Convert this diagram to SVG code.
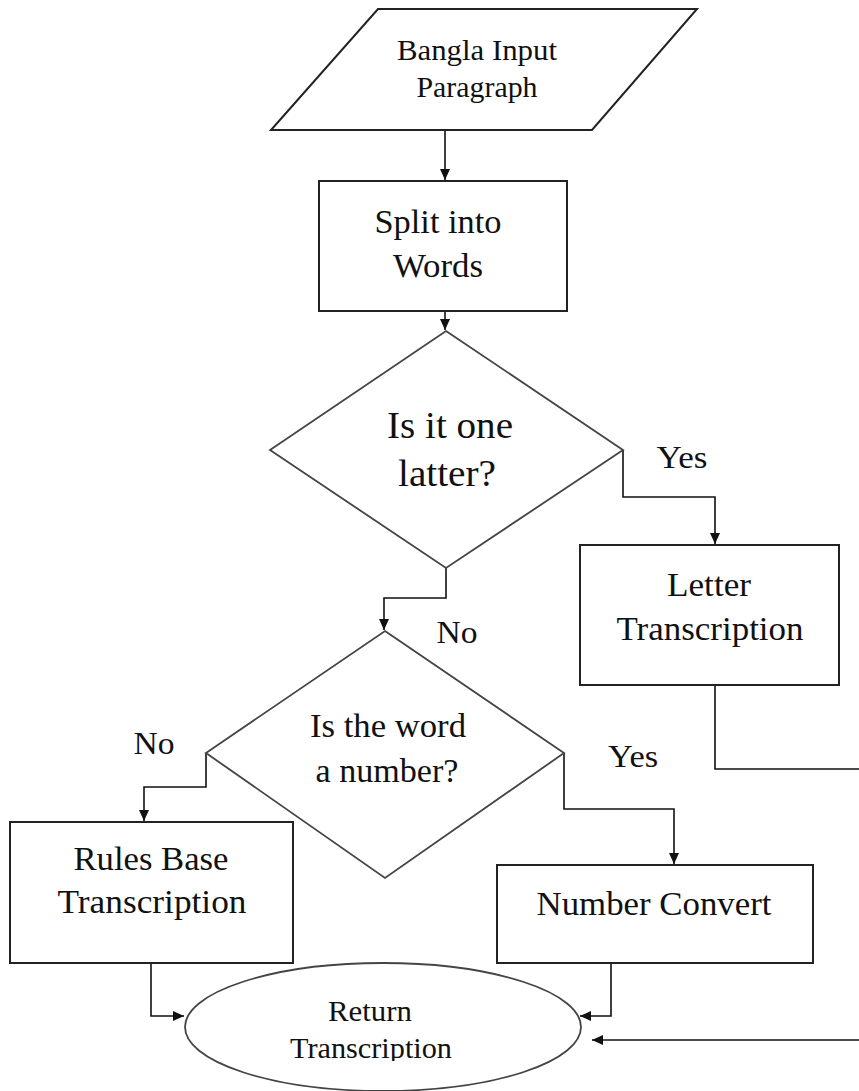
<svg xmlns="http://www.w3.org/2000/svg" width="859" height="1091" viewBox="0 0 859 1091">
<style>
.shape{fill:#fff;stroke:#222;stroke-width:2}
.dia{fill:#fff;stroke:#444;stroke-width:1.8}
.conn{fill:none;stroke:#111;stroke-width:1.6}
text{font-family:"Liberation Serif","Times New Roman",serif;fill:#111;text-anchor:middle}
.t30{font-size:30px}
.t32{font-size:32px}
.t33{font-size:33px}
.t34{font-size:34px}
.t37{font-size:37px}
</style>
<defs>
<marker id="ah" markerUnits="userSpaceOnUse" markerWidth="12" markerHeight="10" refX="11" refY="5" orient="auto">
<path d="M0,0 L11,5 L0,10 Z" fill="#111"/>
</marker>
<clipPath id="ellclip"><rect x="0" y="0" width="859" height="1061"/></clipPath>
</defs>

<g id="connectors">
<path class="conn" d="M445,130 V180" marker-end="url(#ah)"/>
<path class="conn" d="M445,311 V330" marker-end="url(#ah)"/>
<path class="conn" d="M623,450 V497 H715 V544" marker-end="url(#ah)"/>
<path class="conn" d="M715,685 V769 H859"/>
<path class="conn" d="M446,568 V598 H384 V630" marker-end="url(#ah)"/>
<path class="conn" d="M206,753 V787 H144 V821" marker-end="url(#ah)"/>
<path class="conn" d="M564,753 V809 H674 V864" marker-end="url(#ah)"/>
<path class="conn" d="M151,963 V1016 H184" marker-end="url(#ah)"/>
<path class="conn" d="M611,963 V1016 H580" marker-end="url(#ah)"/>
<path class="conn" d="M859,1040 H592" marker-end="url(#ah)"/>
</g>

<g id="labels">
<text class="t32" x="682" y="468" textLength="51" lengthAdjust="spacingAndGlyphs">Yes</text>
<text class="t32" x="457" y="643" textLength="41" lengthAdjust="spacingAndGlyphs">No</text>
<text class="t32" x="154" y="754" textLength="41" lengthAdjust="spacingAndGlyphs">No</text>
<text class="t32" x="633" y="767" textLength="50" lengthAdjust="spacingAndGlyphs">Yes</text>
</g>

<g id="input">
<polygon class="shape" points="378,9 697,9 592,130 271,130"/>
<text class="t30" x="477" y="60" textLength="160" lengthAdjust="spacingAndGlyphs">Bangla Input</text>
<text class="t30" x="477" y="97" textLength="121" lengthAdjust="spacingAndGlyphs">Paragraph</text>
</g>

<g id="split">
<rect class="shape" x="319" y="181" width="248" height="130"/>
<text class="t33" x="438" y="233" textLength="127" lengthAdjust="spacingAndGlyphs">Split into</text>
<text class="t33" x="438" y="277" textLength="90" lengthAdjust="spacingAndGlyphs">Words</text>
</g>

<g id="decision1">
<polygon class="dia" points="446,331 623,450 446,568 270,450"/>
<text class="t37" x="450" y="438" textLength="126" lengthAdjust="spacingAndGlyphs">Is it one</text>
<text class="t37" x="447" y="486" textLength="98" lengthAdjust="spacingAndGlyphs">latter?</text>
</g>

<g id="letter">
<rect class="shape" x="580" y="545" width="259" height="140"/>
<text class="t34" x="709" y="596" textLength="84" lengthAdjust="spacingAndGlyphs">Letter</text>
<text class="t34" x="710" y="640" textLength="187" lengthAdjust="spacingAndGlyphs">Transcription</text>
</g>

<g id="decision2">
<polygon class="dia" points="385,631 564,753 385,878 206,753"/>
<text class="t33" x="388" y="737" textLength="156" lengthAdjust="spacingAndGlyphs">Is the word</text>
<text class="t33" x="387" y="782" textLength="143" lengthAdjust="spacingAndGlyphs">a number?</text>
</g>

<g id="rules">
<rect class="shape" x="10" y="822" width="283" height="141"/>
<text class="t34" x="151" y="870" textLength="155" lengthAdjust="spacingAndGlyphs">Rules Base</text>
<text class="t34" x="152" y="913" textLength="189" lengthAdjust="spacingAndGlyphs">Transcription</text>
</g>

<g id="number">
<rect class="shape" x="497" y="865" width="316" height="98"/>
<text class="t34" x="654" y="915" textLength="235" lengthAdjust="spacingAndGlyphs">Number Convert</text>
</g>

<g id="return">
<ellipse class="dia" cx="383" cy="1027" rx="198" ry="64"/>
<g clip-path="url(#ellclip)">
<text class="t30" x="370" y="1021" textLength="84" lengthAdjust="spacingAndGlyphs">Return</text>
<text class="t30" x="371" y="1058" textLength="162" lengthAdjust="spacingAndGlyphs">Transcription</text>
</g>
</g>
</svg>
